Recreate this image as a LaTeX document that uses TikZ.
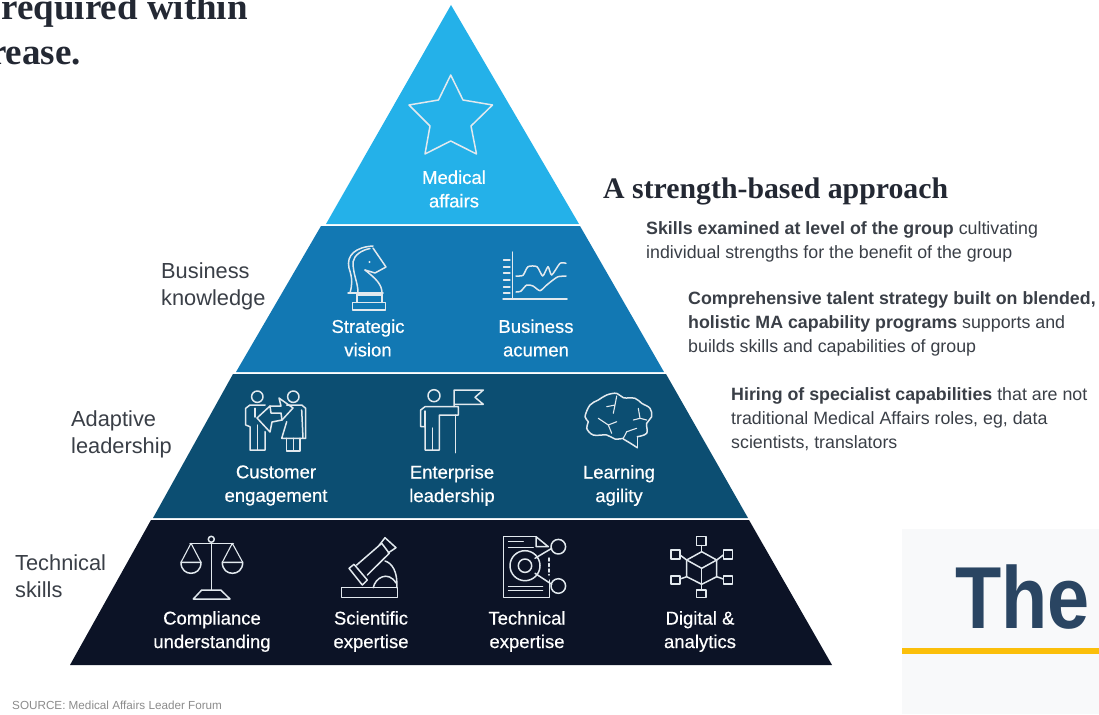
\documentclass[tikz,border=0pt]{standalone}
\usepackage{fontspec}
\setmainfont{Liberation Sans}
\newfontfamily\serifhead{Liberation Serif}
\newfontfamily\labfont[FakeBold=0.5]{Liberation Sans}
\usetikzlibrary{calc}
\definecolor{tierA}{HTML}{24B1E9}
\definecolor{tierB}{HTML}{1278B3}
\definecolor{tierC}{HTML}{0C4E72}
\definecolor{tierD}{HTML}{0C1326}
\definecolor{ink}{HTML}{3A3F47}
\definecolor{darkink}{HTML}{232833}
\definecolor{iconw}{HTML}{E2E9EE}
\definecolor{thecol}{HTML}{2A4562}
\definecolor{thebar}{HTML}{FBBF0A}
\definecolor{pale}{HTML}{F8F9FA}
\tikzset{
  x=1pt,y=-1pt,
  lab/.style={font=\labfont\fontsize{18.5}{23.5}\selectfont,text=white,align=center,inner sep=0pt,anchor=center},
  side/.style={font=\fontsize{21.8}{26.8}\selectfont,text=ink,align=left,inner sep=0pt,anchor=west},
  para/.style={font=\fontsize{17.8}{24}\selectfont,text=ink,align=left,inner sep=0pt,anchor=north west},
  ico/.style={draw=iconw,line width=1.5pt,line join=round,line cap=round,fill=none},
  thin ico/.style={ico,line width=1.1pt},
  toptext/.style={inner sep=0pt,anchor=base east,font=\serifhead\bfseries\fontsize{37}{44}\selectfont,text=darkink},
}
\begin{document}
\begin{tikzpicture}
\useasboundingbox (0,0) rectangle (1099,714);
\fill[white] (0,0) rectangle (1099,714);
% tiers
\fill[tierA] (451,5) -- (579,224) -- (326,224) -- cycle;
\fill[tierB] (321,226) -- (580,226) -- (664,372) -- (236,372) -- cycle;
\fill[tierC] (233,374) -- (666,374) -- (748,518) -- (153,518) -- cycle;
\fill[tierD] (151,520) -- (749,520) -- (832,665) -- (70,665) -- cycle;
% top text
\node[toptext] (t1) at (248,20) {required within};
\node[toptext] (t2) at (81,65) {rease.};
% star
\draw[ico] (450.7,75) -- (463,100) -- (492.5,105) -- (471,126) -- (476.5,154) -- (450.7,141) -- (425,154) -- (430,126) -- (409,105) -- (438.5,100) -- cycle;
\node[lab] (n1) at (454,189) {Medical\\affairs};
% knight
\draw[ico] (352.3,302.3) rectangle (385.7,310);
\draw[ico] (348,293) -- (383,293);
\draw[thin ico] (358,295) -- (382,295);
\draw[ico] (357,302.3) -- (357,293) (382,302.3) -- (382,293);
\draw[ico] (350,293) .. controls (352,285) and (353,280) .. (349,268) .. controls (346,255) and (356,247) .. (373,246);
\draw[ico] (358,293) .. controls (358,282) and (353,275) .. (353,262) .. controls (354,255) and (362,250) .. (370,248.5);
\draw[ico] (373,248) -- (386,267) -- (375,273) -- (365,270);
\draw[ico] (365,270) .. controls (375,278) and (382,284) .. (382,293);
\fill[iconw] (369.5,262) circle (1.2);
\node[lab] (n2) at (368,338) {Strategic\\vision};
% chart
\draw[ico] (512.7,252) -- (512.7,298);
\draw[ico] (503,299) -- (567,299);
\foreach \yy in {260,267,273,280,287,293}{\draw[thin ico] (503.5,\yy) -- (510,\yy);}
\draw[ico] plot[smooth,tension=.4] coordinates {(516,276)(523,275.3)(528,266.7)(537,266.7)(542.7,276)(548,266.7)(551.7,275)(560,263.3)(566,263.3)};
\draw[ico] plot[smooth,tension=.4] coordinates {(516,292)(520.7,291.3)(526.7,285)(533,286)(540,290.7)(546.7,285)(553,280)(558,276.7)(566,276)};
\node[lab] (n3) at (536,338) {Business\\acumen};
% customer engagement
\draw[ico] (257.3,396.7) circle (5.7);
\draw[ico] (293.3,396.7) circle (5.7);
\draw[ico] (265,405) -- (250,405) -- (245.7,408.3) -- (245.7,425) -- (250,426.7) -- (250,450) -- (265,450) -- (265,431.7);
\draw[ico] (257.3,450) -- (257.3,425);
\draw[ico] (255,408.3) -- (255,417);
\draw[ico] (257,418) -- (270,406) -- (271,413) -- (281,413) -- (282,420) -- (272,422) -- (270,432) -- cycle;
\draw[ico] (270,406) -- (281,406) -- (279,398) -- (293,408) -- (282,420);
\draw[ico] (286.7,405) -- (301.7,405) -- (305.7,408.3) -- (305.7,438.3) -- (281.7,438.3) -- (286.7,421.7);
\draw[ico] (301.7,410) -- (303,438.3);
\draw[ico] (286.7,438.3) -- (286.7,451) -- (300,451) -- (300,438.3);
\draw[ico] (293.3,438.3) -- (293.3,451);
\node[lab] (n4) at (276,485.5) {Customer\\engagement};
% enterprise leadership
\draw[ico] (434,395.7) circle (6);
\draw[ico] (454,406.7) -- (454,390) -- (483.3,390) -- (475,397.3) -- (483.3,404.3) -- (454,404.3);
\draw[ico] (455.7,415) -- (455.7,452.7);
\draw[ico] (425,450) -- (425,426.7) -- (420.7,426.7) -- (420.7,410) -- (425,406.7) -- (458.3,406.7) -- (458.3,415) -- (439.3,415) -- (439.3,450) -- cycle;
\draw[ico] (432.7,428) -- (432.7,450);
\draw[ico] (425,411) -- (425,426.7);
\node[lab] (n5) at (452,485.5) {Enterprise\\leadership};
% brain
\draw[ico] plot[smooth,tension=.6] coordinates {(623.3,439)(630,443)(637.3,447.7)};
\draw[ico] (637.3,447.7) -- (637.3,436.7);
\draw[ico] plot[smooth,tension=.6] coordinates {(637.3,436.7)(646.7,433.3)(646.7,423.3)(651.7,416.7)(650,408.3)(641.7,403.3)(635,398.3)(623.3,397.7)(616.7,393.3)(606.7,395)(598.3,400)(590,405)(585,416.7)(588.3,421.7)(586.7,428.3)(593.3,435)(606.7,435)(615,439)(623.3,438.3)};
\draw[thin ico] (598.3,418.3) -- (608.3,425) -- (611.7,433.3) (608.3,425) -- (616.7,421.7);
\draw[thin ico] (606.7,406.7) -- (615,405) -- (613.3,413.3) (615,405) -- (616.7,396);
\draw[thin ico] (638.3,408.3) -- (640,418.3) -- (633.3,420) (640,418.3) -- (646.7,420);
\draw[thin ico] (623.3,438.3) -- (626.7,431.7) -- (636.7,428.3);
\node[lab] (n6) at (619,485.5) {Learning\\agility};
% scales
\draw[ico] (211.3,543) -- (211.3,590);
\draw[ico] (211.3,539.3) circle (3);
\draw[ico] (190,543.3) -- (233.3,543.3);
\draw[thin ico] (191,543.3) -- (181,562.3) (191,543.3) -- (201,562.3);
\draw[thin ico] (232.3,543.3) -- (222.3,562.3) (232.3,543.3) -- (242.7,562.3);
\draw[ico] (181,562.3) -- (201,562.3) .. controls (201,570) and (196,573.3) .. (191,573.3) .. controls (186,573.3) and (181,570) .. (181,562.3) -- cycle;
\draw[ico] (222.3,562.3) -- (242.7,562.3) .. controls (242.7,570) and (237.5,573.3) .. (232.5,573.3) .. controls (227.5,573.3) and (222.3,570) .. (222.3,562.3) -- cycle;
\draw[ico] (193.3,599) -- (201.7,590) -- (220.7,590) -- (230,599) -- cycle;
\node[lab] (n7) at (212,631.5) {Compliance\\understanding};
% microscope
\draw[ico] (341.7,587.7) rectangle (397.7,597.7);
\draw[ico] (349,568.3) -- (354,564.3) -- (367.3,580) -- (362.3,585) -- cycle;
\draw[ico] (356.7,565) -- (381.7,543.3) -- (389.3,553.3) -- (367.3,575);
\draw[ico] (379,545.5) -- (385,537.7) -- (396,547.7) -- (388,553);
\draw[ico] (385,561) .. controls (392,563) and (398,572) .. (396.7,587.7);
\draw[ico] (373.3,587.7) .. controls (375,578) and (388,570) .. (396,583);
\node[lab] (n8) at (371,631.5) {Scientific\\expertise};
% technical doc
\draw[ico] (536,536.7) -- (503.3,536.7) -- (503.3,597.7) -- (549.3,597.7) -- (549.3,580);
\draw[ico] (536,536.7) -- (536,546.7) -- (548.3,546.7) -- cycle;
\draw[thin ico] (508.3,541.7) -- (523.3,541.7) (508.3,547.3) -- (533.3,547.3) (508.3,586.7) -- (542.7,586.7) (508.3,590.7) -- (542.7,590.7);
\draw[ico] (558.3,546.7) circle (7.3);
\draw[ico] (558.3,586) circle (7.3);
\draw[ico] (525,565.7) circle (15);
\draw[ico] (525,565.7) circle (6.7);
\draw[ico] (535,558.3) -- (551.7,548.3);
\draw[ico] (535,573.3) -- (551.7,584.3);
\draw[ico,dash pattern=on 3pt off 2.5pt] (549,558) -- (549,575);
\node[lab] (n9) at (527,631.5) {Technical\\expertise};
% digital
\draw[ico] (701.7,551.7) -- (716.7,560) -- (716.7,576.7) -- (701.7,584.3) -- (686.7,576.7) -- (686.7,560) -- cycle;
\draw[ico] (686.7,560) -- (701.7,568.3) -- (716.7,560);
\draw[ico] (701.7,568.3) -- (701.7,584.3);
\draw[ico] (696.7,536.7) rectangle (706,545.7);
\draw[ico] (696.7,590) rectangle (706,597.7);
\draw[ico] (671,550) rectangle (680,559);
\draw[ico] (723.3,550) rectangle (732.3,559);
\draw[ico] (671,576) rectangle (680,584);
\draw[ico] (723.3,576) rectangle (732.3,584);
\draw[ico] (701.7,545.7) -- (701.7,551.7);
\draw[ico] (701.7,584.3) -- (701.7,590);
\draw[ico] (680,555) -- (686.7,560);
\draw[ico] (723.3,555) -- (716.7,560);
\draw[ico] (680,579) -- (686.7,576.7);
\draw[ico] (723.3,579) -- (716.7,576.7);
\node[lab] (n10) at (700,631.5) {Digital \&\\analytics};
% side labels
\node[side] (s1) at (161,286.5) {Business\\knowledge};
\node[side] (s2) at (71,434) {Adaptive\\leadership};
\node[side] (s3) at (15,576) {Technical\\skills};
% right
\node[inner sep=0pt,anchor=base west,font=\serifhead\bfseries\fontsize{29.8}{34}\selectfont,text=darkink] (h) at (603,198) {A strength-based approach};
\node[para] (p1) at (646,221.5) {\textbf{Skills examined at level of the group} cultivating\\individual strengths for the benefit of the group};
\node[para] (p2) at (688,291.5) {\textbf{Comprehensive talent strategy built on blended,}\\\textbf{holistic MA capability programs} supports and\\builds skills and capabilities of group};
\node[para] (p3) at (731,387) {\textbf{Hiring of specialist capabilities} that are not\\traditional Medical Affairs roles, eg, data\\scientists, translators};
% source
\node[inner sep=0pt,anchor=base west,font=\fontsize{11.7}{14}\selectfont,text=black!45] (src) at (12,709) {SOURCE: Medical Affairs Leader Forum};
% The box
\fill[pale] (902,529) rectangle (1099,714);
\fill[thebar] (902,648) rectangle (1099,654);
\node[inner sep=0pt,anchor=base west,font=\bfseries\fontsize{88}{90}\selectfont,text=thecol,xscale=.86,transform shape] (the) at (955,628) {The};
\end{tikzpicture}
\end{document}
